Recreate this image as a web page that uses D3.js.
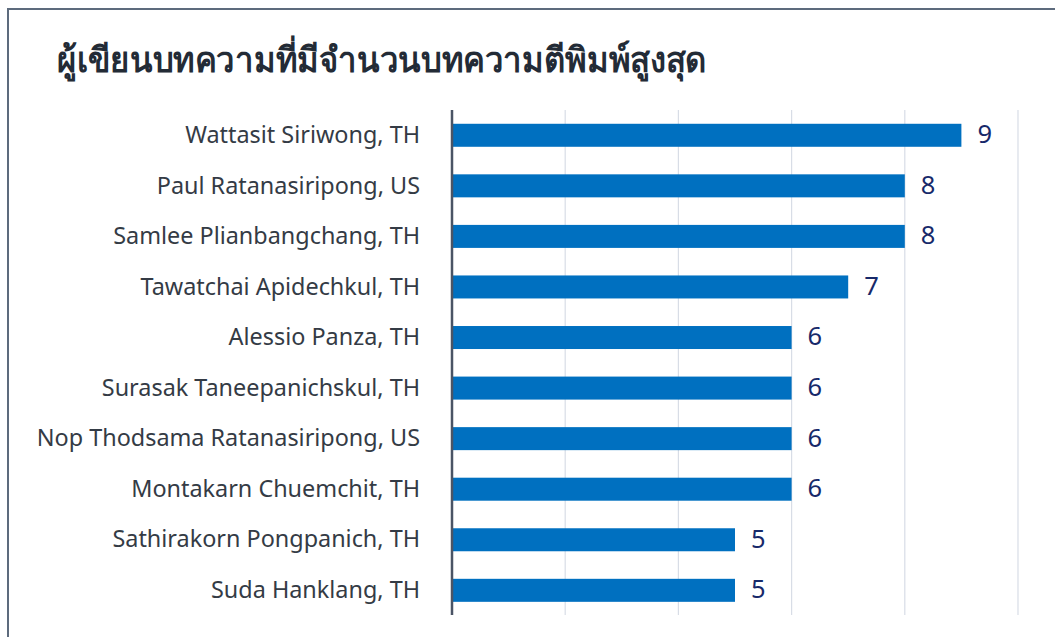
<!DOCTYPE html>
<html><head><meta charset="utf-8">
<script src="https://cdn.jsdelivr.net/npm/d3@7"></script>
<style>body{margin:0;background:#fff}svg{display:block}</style>
</head><body><svg id="c" width="1055" height="637"></svg>
<script>
const title = "ผู้เขียนบทความที่มีจำนวนบทความตีพิมพ์สูงสุด";
const authors = ["Wattasit Siriwong, TH","Paul Ratanasiripong, US","Samlee Plianbangchang, TH","Tawatchai Apidechkul, TH","Alessio Panza, TH","Surasak Taneepanichskul, TH","Nop Thodsama Ratanasiripong, US","Montakarn Chuemchit, TH","Sathirakorn Pongpanich, TH","Suda Hanklang, TH"];
const counts = [9,8,8,7,6,6,6,6,5,5];
const gridTicks = [0,2,4,6,8,10];

const svg = d3.select("#c");
svg.append("rect").attr("x",8).attr("y",9).attr("width",1100).attr("height",700)
  .attr("fill","none").attr("stroke","#5d6b7d").attr("stroke-width",2);

svg.append("text").attr("x",57).attr("y",72).text(title)
  .attr("font-family","'Noto Sans', sans-serif").attr("font-weight","bold")
  .attr("font-size",35).attr("fill","#232b36")
  .attr("textLength",650).attr("lengthAdjust","spacingAndGlyphs");

const x = d3.scaleLinear().domain([0,10]).range([452,1018]);
const y = d3.scaleBand().domain(authors).range([110,615.6]).paddingInner(0.545).paddingOuter(0.2725);

svg.append("g").selectAll("line").data(gridTicks.slice(1)).join("line")
  .attr("x1",d=>x(d)).attr("x2",d=>x(d)).attr("y1",110).attr("y2",615)
  .attr("stroke","#d8dde6").attr("stroke-width",1.2);

svg.append("g").selectAll("rect").data(authors).join("rect")
  .attr("x",x(0)).attr("y",d=>y(d)).attr("height",y.bandwidth())
  .attr("width",(d,i)=>x(counts[i])-x(0)).attr("fill","#0070c0");

svg.append("line").attr("x1",x(0)).attr("x2",x(0)).attr("y1",110).attr("y2",615)
  .attr("stroke","#4a5465").attr("stroke-width",2.5);

svg.append("g").selectAll("text").data(authors).join("text")
  .attr("x",420).attr("y",d=>y(d)+y.bandwidth()/2).attr("dy","0.33em")
  .attr("text-anchor","end").attr("font-family","'Noto Sans', sans-serif")
  .attr("font-size",23.4).attr("fill","#343b45").text(d=>d);

svg.append("g").selectAll("text").data(authors).join("text")
  .attr("x",(d,i)=>x(counts[i])+16).attr("y",d=>y(d)+y.bandwidth()/2).attr("dy","0.31em")
  .attr("font-family","'Noto Sans', sans-serif")
  .attr("font-size",25.5).attr("fill","#17296a").text((d,i)=>counts[i]);
</script></body></html>
